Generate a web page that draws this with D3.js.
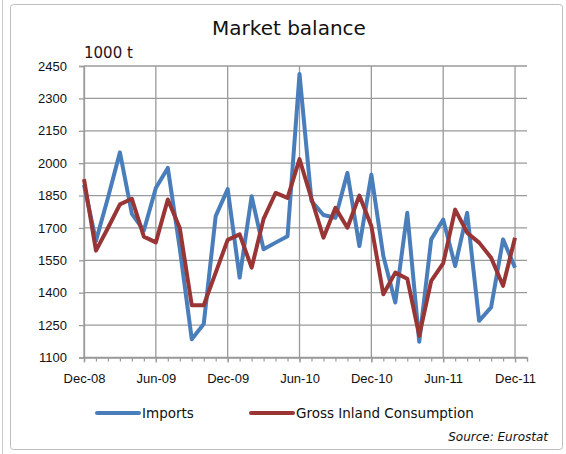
<!DOCTYPE html>
<html>
<head>
<meta charset="utf-8">
<script src="https://cdn.jsdelivr.net/npm/d3@7"></script>
<style>
  body { margin: 0; background: #fff; }
  svg { display: block; font-family: "DejaVu Sans", sans-serif; }
</style>
</head>
<body>
<svg id="chart" width="566" height="454"></svg>
<script>
// monthly values, Dec-08 .. Dec-11 (1000 t)
const months = d3.timeMonths(new Date(2008, 11, 1), new Date(2012, 0, 2));
const imports = [1900, 1640, 1840, 2050, 1765, 1688, 1885, 1978, 1605, 1185, 1255, 1755, 1880,
  1470, 1847, 1601, 1632, 1662, 2413, 1825, 1760, 1747, 1955, 1616, 1947,
  1570, 1355, 1770, 1173, 1647, 1739, 1524, 1770, 1270, 1332, 1647, 1516];
const consumption = [1926, 1595, 1700, 1809, 1835, 1660, 1633, 1832, 1700, 1342, 1342, 1493, 1645,
  1670, 1516, 1742, 1862, 1839, 2019, 1835, 1655, 1793, 1701, 1850, 1709,
  1393, 1493, 1465, 1201, 1455, 1536, 1785, 1678, 1632, 1562, 1432, 1655];
const yTicks = [1100, 1250, 1400, 1550, 1700, 1850, 2000, 2150, 2300, 2450];
const seriesNames = ["Imports", "Gross Inland Consumption"];

const blue = "#4a7ebb";
const red = "#993535";
const gridColor = "#9a9a9a";

const svg = d3.select("#chart");

// frames
svg.append("line").attr("x1", 2.5).attr("x2", 2.5).attr("y1", 0).attr("y2", 454)
  .style("stroke", "#c8c8c8");
svg.append("rect").attr("x", 10.5).attr("y", 4.5).attr("width", 552).attr("height", 445)
  .attr("rx", 3).style("fill", "none").style("stroke", "#bdbdbd");

// equal spacing per month, like a category axis
const idx = d3.range(months.length);
const x = d3.scaleLinear().domain([0, months.length - 1]).range([84, 527]);
const y = d3.scaleLinear().domain([1100, 2450]).range([357.5, 66]);

const majorIdx = idx.filter(i => i % 6 == 0);
const fmtMonth = d3.timeFormat("%b-%y");

// grid
const grid = svg.append("g");
grid.selectAll(".hg").data(yTicks).enter().append("line")
  .attr("x1", x.range()[0]).attr("x2", x.range()[1])
  .attr("y1", d => y(d)).attr("y2", d => y(d))
  .style("stroke", gridColor).style("stroke-width", 1.3);
grid.selectAll(".vg").data(majorIdx).enter().append("line")
  .attr("x1", d => x(d)).attr("x2", d => x(d))
  .attr("y1", y.range()[1]).attr("y2", y.range()[0])
  .style("stroke", gridColor).style("stroke-width", 1.3);

// y axis
const yAxis = svg.append("g")
  .attr("transform", "translate(" + x.range()[0] + ",0)")
  .call(d3.axisLeft(y).tickValues(yTicks).tickSize(5).tickPadding(12).tickFormat(d3.format("d")));
yAxis.select(".domain").style("stroke", gridColor).style("stroke-width", 1.3);
yAxis.selectAll(".tick line").style("stroke", gridColor).style("stroke-width", 1.3);
yAxis.selectAll("text").style("font-size", "13px").style("fill", "#111");

// x axis (minor ticks every month, labels every 6 months)
const xMinor = svg.append("g")
  .attr("transform", "translate(0," + y.range()[0] + ")")
  .call(d3.axisBottom(x).tickValues(idx).tickSize(4).tickFormat(""));
xMinor.select(".domain").style("stroke", gridColor).style("stroke-width", 1.3);
xMinor.selectAll(".tick line").style("stroke", gridColor).style("stroke-width", 1.2);

const xAxis = svg.append("g")
  .attr("transform", "translate(0," + y.range()[0] + ")")
  .call(d3.axisBottom(x).tickValues(majorIdx).tickSize(5).tickPadding(11)
    .tickFormat(i => fmtMonth(months[i])));
xAxis.select(".domain").remove();
xAxis.selectAll(".tick line").style("stroke", gridColor).style("stroke-width", 1.3);
xAxis.selectAll("text").style("font-size", "13px").style("fill", "#111");

// lines
const line = d3.line().x((d, i) => x(i)).y(d => y(d));
svg.append("path").datum(imports).attr("d", line)
  .style("fill", "none").style("stroke", blue).style("stroke-width", 4)
  .style("stroke-linejoin", "round");
svg.append("path").datum(consumption).attr("d", line)
  .style("fill", "none").style("stroke", red).style("stroke-width", 4)
  .style("stroke-linejoin", "round");

// titles
svg.append("text").attr("x", 289).attr("y", 35).attr("text-anchor", "middle")
  .style("font-size", "20px").style("fill", "#111").text("Market balance");
svg.append("text").attr("x", 84).attr("y", 58)
  .style("font-size", "15px").style("fill", "#2b1020").text("1000 t");

// legend
const legend = svg.append("g").attr("transform", "translate(0,413)");
const legendX = [97, 251];
const colors = [blue, red];
seriesNames.forEach((name, i) => {
  legend.append("line").attr("x1", legendX[i]).attr("x2", legendX[i] + 42)
    .attr("y1", 0).attr("y2", 0)
    .style("stroke", colors[i]).style("stroke-width", 4).style("stroke-linecap", "round");
  legend.append("text").attr("x", legendX[i] + 45).attr("y", 5)
    .style("font-size", "13.5px").style("fill", "#111").text(name);
});

svg.append("text").attr("x", 548).attr("y", 441).attr("text-anchor", "end")
  .style("font-size", "12px").style("font-style", "italic").style("fill", "#111")
  .text("Source: Eurostat");
</script>
</body>
</html>
